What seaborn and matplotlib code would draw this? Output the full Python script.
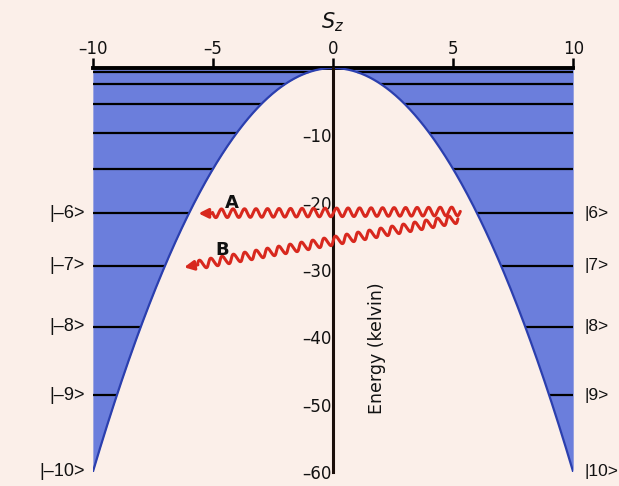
#!/usr/bin/env python3

import matplotlib
matplotlib.use("Agg")
import matplotlib.pyplot as plt
import numpy as np
import seaborn as sns


""" data read off the picture """

sz_levels = [0, 1, 2, 3, 4, 5, 6, 7, 8, 9, 10]
level_energies = [0, -0.6, -2.4, -5.4, -9.6, -15.0, -21.6, -29.4, -38.4, -48.6, -60.0]
D = 0.6  # kelvin, anisotropy (E = -D Sz^2)

state_m = [6, 7, 8, 9, 10]
state_energies = [-21.6, -29.4, -38.4, -48.6, -60.0]
left_labels = ["|\u20136>", "|\u20137>", "|\u20138>", "|\u20139>", "|\u201310>"]
right_labels = ["|6>", "|7>", "|8>", "|9>", "|10>"]

x_ticks = [-10, -5, 0, 5, 10]
y_ticks = [-10, -20, -30, -40, -50, -60]

# wavy arrows: start (Sz, E) -> tip (Sz, E)
arrow_names = ["A", "B"]
arrow_start = [(5.3, -21.3), (5.2, -22.4)]
arrow_tip = [(-5.6, -21.6), (-6.2, -29.6)]
arrow_label_pos = [(-4.2, -20.0), (-4.6, -27.0)]

bg = "#fbefe9"
blue_fill = "#6b7edc"
blue_edge = "#2b3fae"
red = "#d8281e"

sns.set_style("white")
plt.rcParams["font.family"] = ["DejaVu Sans"]
plt.rcParams["text.color"] = "#111111"
plt.rcParams["axes.labelcolor"] = "#111111"

fig, ax = plt.subplots(figsize=(6.19, 4.86), dpi=100)
fig.patch.set_facecolor(bg)
ax.set_facecolor(bg)
fig.subplots_adjust(left=0.150, right=0.926, top=0.860, bottom=0.029)

s = np.linspace(-10, 10, 801)
e = -D * s ** 2
ax.fill_between(s, e, 0, color=blue_fill, lw=0, zorder=1)
sns.lineplot(x=s, y=e, color=blue_edge, lw=1.6, ax=ax, zorder=3)

# energy levels, from the edge to the parabola
for m, en in zip(sz_levels[1:], level_energies[1:]):
    ax.hlines(en, -10, -m, color="black", lw=1.6, zorder=2, clip_on=False)
    ax.hlines(en, m, 10, color="black", lw=1.6, zorder=2, clip_on=False)

ax.set_xlim(-10, 10)
ax.set_ylim(-60, 0)

for side in ["right", "bottom"]:
    ax.spines[side].set_visible(False)
ax.spines["top"].set_linewidth(2.8)
ax.spines["top"].set_color("black")
ax.spines["left"].set_position(("data", 0))
ax.spines["left"].set_linewidth(2.2)
ax.spines["left"].set_color("#1a0e0a")
ax.spines["left"].set_zorder(4)

ax.xaxis.tick_top()
ax.xaxis.set_label_position("top")
ax.set_xticks(x_ticks)
ax.set_xticklabels([str(t).replace("-", "\u2013") for t in x_ticks])
ax.set_xlabel("$S_z$", fontsize=15, labelpad=8)
ax.tick_params(axis="x", direction="out", length=7, width=1.8, labelsize=12,
               pad=0.5, colors="black", labelcolor="#111111")

ax.set_yticks(y_ticks)
ax.set_yticklabels([str(t).replace("-", "\u2013") for t in y_ticks])
ax.tick_params(axis="y", direction="in", length=6, width=2, labelsize=12,
               pad=1, colors="black", labelcolor="#111111")
for lab in ax.get_yticklabels():
    lab.set_zorder(5)
ax.grid(False)

ax.text(1.85, -41.6, "Energy (kelvin)", rotation=90, fontsize=12.5,
        ha="center", va="center")

for en, ll, rl in zip(state_energies, left_labels, right_labels):
    ax.text(-10.35, en, ll, ha="right", va="center", fontsize=13,
            family="Liberation Sans", clip_on=False)
    ax.text(10.45, en, rl, ha="left", va="center", fontsize=12.5,
            family="Liberation Sans", clip_on=False)

# wavy photon arrows, drawn in pixel-like units so the wiggle looks even
px_x, px_y = 24.0, 6.73
amp, period = 4.3, 11.5
for name, p0, p1, lp in zip(arrow_names, arrow_start, arrow_tip, arrow_label_pos):
    x0, y0 = p0[0] * px_x, p0[1] * px_y
    x1, y1 = p1[0] * px_x, p1[1] * px_y
    L = np.hypot(x1 - x0, y1 - y0)
    ux, uy = (x1 - x0) / L, (y1 - y0) / L
    nx, ny = -uy, ux
    stop = L - 14
    t = np.linspace(0, stop, 900)
    w = amp * np.sin(2 * np.pi * t / period)
    wx = (x0 + ux * t + nx * w) / px_x
    wy = (y0 + uy * t + ny * w) / px_y
    ax.plot(wx, wy, color=red, lw=2.2, zorder=6, solid_capstyle="round")
    bx, by = (x0 + ux * stop) / px_x, (y0 + uy * stop) / px_y
    ax.annotate("", xy=p1, xytext=(bx, by), zorder=6,
                arrowprops=dict(arrowstyle="-|>", color=red, lw=2.2,
                                mutation_scale=14, shrinkA=0, shrinkB=0))
    ax.text(lp[0], lp[1], name, fontsize=13, fontweight="bold",
            ha="center", va="center", zorder=7)

plt.savefig("out.png", dpi=100, facecolor=bg)
plt.close()
